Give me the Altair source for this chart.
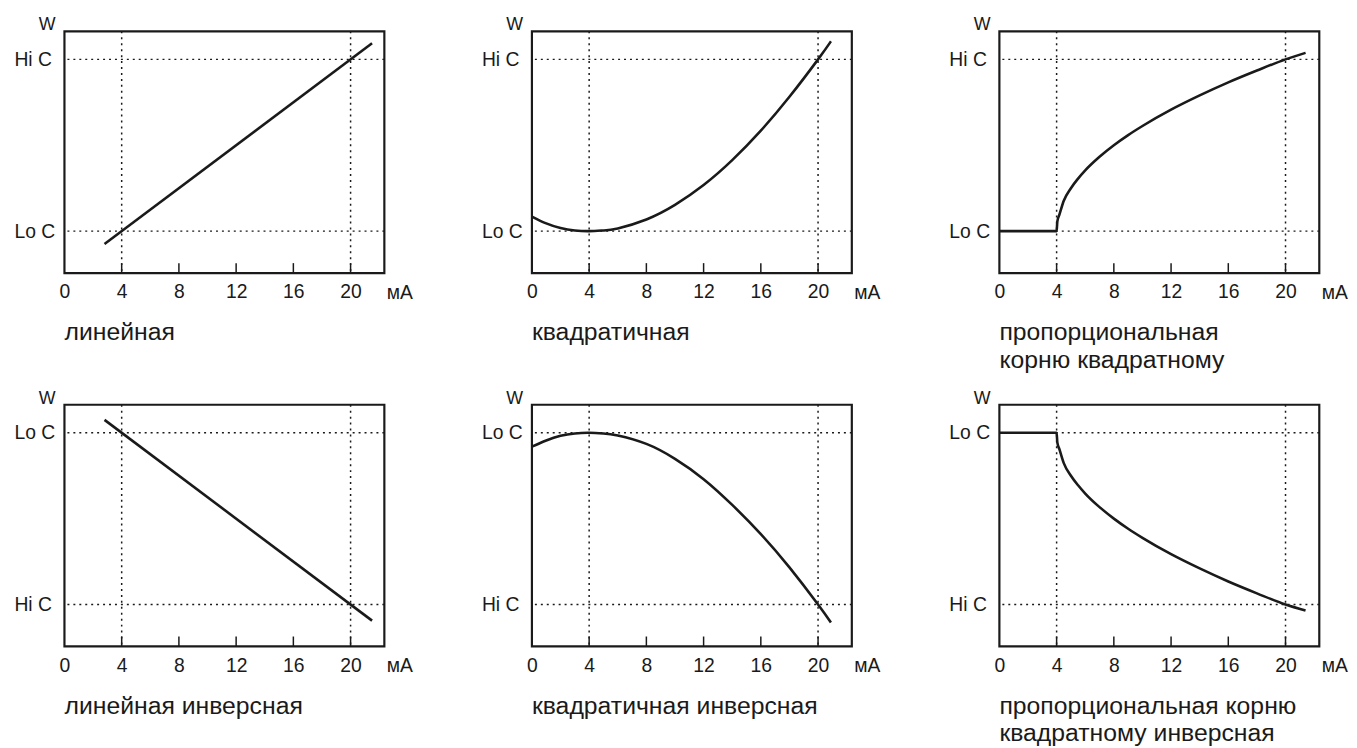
import altair as alt
import pandas as pd

# ---- data ----
x_tick_values = [0, 4, 8, 12, 16, 20]
inner_tick_values = [4, 8, 12, 16, 20]
grid_x = [4, 20]
grid_y = [0, 1]

lin_x = [2.8, 21.5]
lin_y = [-0.075, 1.094]

quad_x = [0, 1, 2, 3, 4, 5, 6, 8, 10, 12, 14, 16, 18, 20, 20.9]
quad_y = [0.085, 0.045, 0.018, 0.004, 0.0, 0.004, 0.016, 0.068, 0.153, 0.268, 0.413, 0.585, 0.782, 1.0, 1.105]

sqrt_x = [0, 4, 4.05, 4.2, 4.5, 5, 5.5, 6, 7, 8, 9, 10, 12, 14, 16, 18, 20, 21.4]
sqrt_y = [0, 0, 0.056, 0.097, 0.177, 0.25, 0.306, 0.354, 0.433, 0.5, 0.559, 0.612, 0.707, 0.79, 0.866, 0.935, 1.0, 1.038]

linv_x = [2.8, 21.5]
linv_y = [1.075, -0.094]

quadinv_x = [0, 1, 2, 3, 4, 5, 6, 8, 10, 12, 14, 16, 18, 20, 20.9]
quadinv_y = [0.919, 0.955, 0.982, 0.996, 1.0, 0.996, 0.984, 0.935, 0.848, 0.73, 0.58, 0.41, 0.216, 0.0, -0.105]

sqrtinv_x = [0, 4, 4.05, 4.2, 4.5, 5, 5.5, 6, 7, 8, 9, 10, 12, 14, 16, 18, 20, 21.4]
sqrtinv_y = [1, 1, 0.944, 0.903, 0.823, 0.75, 0.694, 0.646, 0.567, 0.5, 0.441, 0.388, 0.293, 0.21, 0.134, 0.065, 0.0, -0.035]

subtitles = [
    "линейная",
    "квадратичная",
    "пропорциональная\nкорню квадратному",
    "линейная инверсная",
    "квадратичная инверсная",
    "пропорциональная корню\nквадратному инверсная",
]

W = 323
H = 244
FONT = "Liberation Sans"
INK = "#1a1a1a"
LBL = 19.5
XDOM = [0, 22.36]
YDOM = [-0.244, 1.163]


def panel(xs, ys, hi_on_top, subtitle, interp):
    label_expr = ("datum.value == 1 ? 'Hi C' : 'Lo C'" if hi_on_top
                  else "datum.value == 1 ? 'Lo C' : 'Hi C'")
    xsc = alt.Scale(domain=XDOM, nice=False, zero=False)
    ysc = alt.Scale(domain=YDOM, nice=False, zero=False)
    xaxis = alt.Axis(
        values=x_tick_values, labelFontSize=LBL, labelFont=FONT, labelColor=INK,
        ticks=False, tickSize=0, domain=False, grid=False, labelFlush=False,
        labelPadding=10, title="мА", titleFont=FONT, titleFontSize=LBL,
        titleFontWeight="normal", titleColor=INK, titleAlign="left",
        titleBaseline="alphabetic", titleX=325, titleY=25.7, titleAnchor="start")
    yaxis = alt.Axis(
        values=grid_y, labelExpr=label_expr, labelFontSize=LBL, labelFont=FONT,
        labelColor=INK, labelAlign="left", labelBaseline="middle",
        labelPadding=51, ticks=False, tickSize=0, domain=False, grid=False,
        title="W", titleAngle=0, titleFont=FONT, titleFontSize=18,
        titleFontWeight="normal", titleColor=INK, titleAlign="center",
        titleBaseline="alphabetic", titleX=-18, titleY=-1.5)

    curve = alt.Chart(pd.DataFrame({"x": xs, "y": ys})).mark_line(
        color=INK, strokeWidth=2.6, interpolate=interp
    ).encode(
        x=alt.X("x:Q", scale=xsc, axis=xaxis),
        y=alt.Y("y:Q", scale=ysc, axis=yaxis),
    )

    vgrid = alt.Chart(pd.DataFrame({"x": grid_x})).mark_rule(
        color=INK, strokeWidth=1.5, strokeDash=[2, 4]
    ).encode(x=alt.X("x:Q", scale=xsc, axis=xaxis))

    hgrid = alt.Chart(pd.DataFrame({"y": grid_y})).mark_rule(
        color=INK, strokeWidth=1.5, strokeDash=[2, 4]
    ).encode(y=alt.Y("y:Q", scale=ysc, axis=yaxis))

    ticks = alt.Chart(pd.DataFrame({"x": inner_tick_values})).mark_rule(
        color=INK, strokeWidth=1.5
    ).encode(x=alt.X("x:Q", scale=xsc, axis=xaxis),
             y=alt.value(H), y2=alt.value(H - 10))

    sub = alt.Chart(pd.DataFrame({"s": [subtitle]})).mark_text(
        align="left", baseline="alphabetic", fontSize=25, font=FONT,
        color=INK, lineBreak="\n", lineHeight=28
    ).encode(text="s:N", x=alt.value(0), y=alt.value(H + 68))

    return alt.layer(hgrid, vgrid, ticks, curve, sub).properties(width=W, height=H)


row1 = alt.hconcat(
    panel(lin_x, lin_y, True, subtitles[0], "linear"),
    panel(quad_x, quad_y, True, subtitles[1], "natural"),
    panel(sqrt_x, sqrt_y, True, subtitles[2], "monotone"),
    spacing=66,
)
row2 = alt.hconcat(
    panel(linv_x, linv_y, False, subtitles[3], "linear"),
    panel(quadinv_x, quadinv_y, False, subtitles[4], "natural"),
    panel(sqrtinv_x, sqrtinv_y, False, subtitles[5], "monotone"),
    spacing=66,
)

chart = alt.vconcat(row1, row2, spacing=13).properties(
    padding={"left": 4, "top": 3, "right": 0, "bottom": 0},
    background="white",
).configure_view(stroke=INK, strokeWidth=2.2)

chart.save("out.html", embed_options={"renderer": "svg", "actions": False})
